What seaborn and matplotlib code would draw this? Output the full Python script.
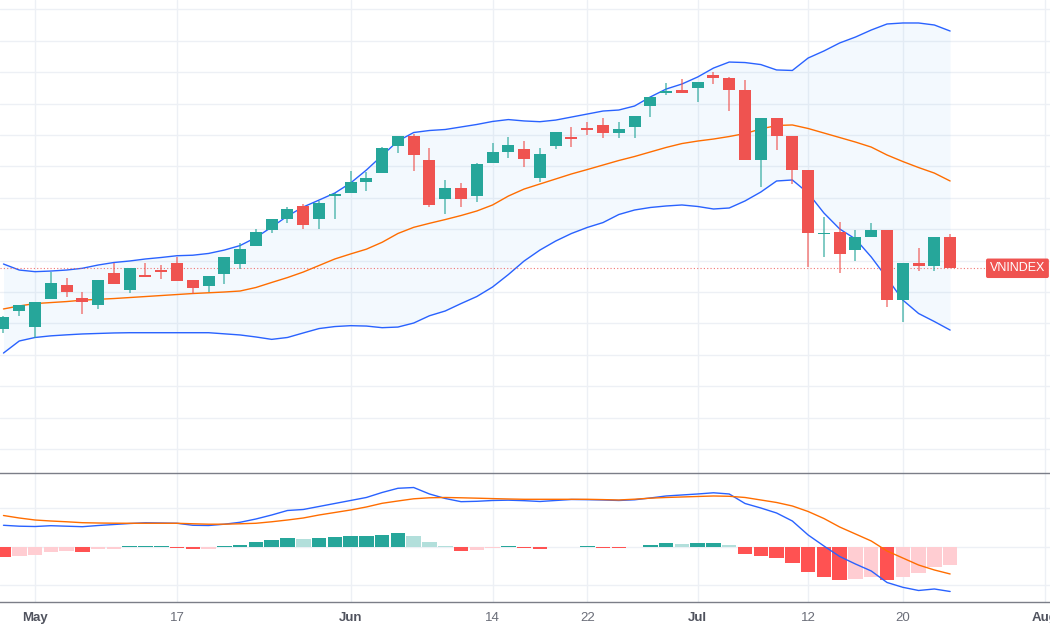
import numpy as np
import pandas as pd
import matplotlib
matplotlib.use("Agg")
import matplotlib.pyplot as plt
import seaborn as sns

# ---------------- data (VNINDEX daily, 28 Apr - 23 Jul 2021) ----------------
holidays = ["2021-04-30", "2021-05-03"]
first_day, last_day = "2021-04-28", "2021-07-23"

open_ = [1245.3, 1259.9, 1246.9, 1269.7, 1280.6, 1270.5, 1264.9, 1290.4, 1276.8, 1288.3,
         1292.1, 1297.9, 1284.3, 1279.8, 1289.6, 1297.7, 1311.9, 1324.4, 1332.9, 1343.5,
         1332.9, 1351.4, 1354.1, 1362.6, 1370.0, 1391.5, 1399.4, 1380.1, 1348.8, 1358.0,
         1351.4, 1377.5, 1386.5, 1388.6, 1366.0, 1391.2, 1398.6, 1405.8, 1408.0, 1401.8,
         1406.6, 1423.1, 1433.2, 1435.8, 1437.2, 1447.8, 1445.1, 1435.8, 1380.1, 1413.3,
         1399.2, 1372.1, 1321.2, 1322.5, 1308.4, 1318.8, 1324.4, 1268.6, 1298.3, 1295.7,
         1319.0]
high = [1255.9, 1264.6, 1267.3, 1291.2, 1286.4, 1275.2, 1284.6, 1297.9, 1294.3, 1298.3,
        1296.3, 1303.1, 1284.3, 1287.7, 1303.1, 1314.4, 1325.2, 1333.4, 1342.4, 1345.1,
        1347.7, 1354.1, 1371.3, 1370.3, 1390.7, 1399.4, 1400.8, 1389.4, 1364.2, 1361.5,
        1377.9, 1393.4, 1398.6, 1395.5, 1389.4, 1402.6, 1406.6, 1410.6, 1413.3, 1410.1,
        1415.1, 1430.5, 1441.2, 1444.4, 1442.0, 1449.9, 1446.4, 1443.8, 1413.3, 1413.3,
        1399.2, 1372.1, 1335.0, 1330.5, 1324.4, 1329.7, 1324.4, 1298.3, 1309.8, 1319.0,
        1320.9]
low = [1242.6, 1256.1, 1238.6, 1269.7, 1271.3, 1257.2, 1261.7, 1281.1, 1274.4, 1286.9,
       1285.1, 1283.5, 1273.8, 1275.2, 1281.1, 1293.7, 1311.9, 1322.2, 1329.7, 1324.9,
       1324.9, 1332.9, 1354.1, 1355.7, 1370.0, 1385.4, 1371.6, 1342.4, 1336.9, 1342.4,
       1346.9, 1377.5, 1381.5, 1374.8, 1362.8, 1388.6, 1390.7, 1400.0, 1397.4, 1397.9,
       1397.9, 1414.6, 1431.8, 1433.2, 1426.5, 1440.4, 1419.1, 1380.1, 1358.8, 1388.1,
       1360.7, 1294.7, 1303.1, 1289.9, 1299.7, 1318.8, 1263.3, 1250.9, 1291.7, 1291.7,
       1293.9]
close = [1254.9, 1264.4, 1267.3, 1281.9, 1275.2, 1267.0, 1284.6, 1281.1, 1294.3, 1286.9,
         1291.3, 1283.5, 1277.8, 1287.7, 1302.9, 1309.1, 1323.0, 1333.4, 1341.3, 1328.6,
         1345.6, 1353.3, 1362.6, 1365.5, 1389.4, 1399.4, 1383.8, 1344.3, 1358.0, 1348.8,
         1376.9, 1386.7, 1392.0, 1381.1, 1384.9, 1402.6, 1397.1, 1404.0, 1401.8, 1404.5,
         1415.1, 1430.5, 1435.0, 1433.2, 1442.0, 1445.1, 1435.8, 1380.1, 1413.3, 1399.2,
         1372.1, 1321.7, 1322.2, 1305.0, 1319.0, 1324.4, 1268.6, 1298.3, 1295.7, 1319.0,
         1293.9]

bb_upper = [1297.3, 1292.5, 1291.2, 1291.7, 1292.5, 1293.9, 1296.5, 1298.5, 1299.7, 1301.3,
            1302.5, 1303.9, 1304.3, 1305.7, 1308.4, 1312.0, 1318.4, 1326.7, 1335.5, 1342.7,
            1348.2, 1353.8, 1361.8, 1372.1, 1383.7, 1395.2, 1402.0, 1403.6, 1404.4, 1406.4,
            1408.4, 1410.8, 1412.3, 1411.2, 1410.6, 1411.9, 1414.3, 1416.7, 1419.1, 1419.9,
            1423.1, 1430.3, 1436.6, 1440.6, 1446.2, 1453.3, 1458.1, 1457.7, 1456.1, 1451.8,
            1451.4, 1461.3, 1466.9, 1473.3, 1478.0, 1483.6, 1488.4, 1489.2, 1489.2, 1487.6,
            1482.8]
bb_basis = [1261.5, 1263.9, 1265.8, 1266.6, 1267.4, 1268.5, 1269.2, 1269.8, 1270.6, 1271.4,
            1272.2, 1273.0, 1273.8, 1274.4, 1275.0, 1275.8, 1278.6, 1282.6, 1286.5, 1290.9,
            1296.1, 1301.3, 1305.3, 1309.1, 1314.6, 1321.6, 1326.5, 1329.7, 1332.7, 1335.9,
            1339.5, 1344.3, 1351.4, 1357.0, 1361.0, 1365.0, 1369.0, 1372.5, 1376.1, 1379.7,
            1382.9, 1386.5, 1390.1, 1393.2, 1395.2, 1396.8, 1398.8, 1401.2, 1404.8, 1407.6,
            1408.0, 1405.2, 1401.6, 1398.0, 1394.4, 1390.4, 1384.1, 1378.9, 1374.1, 1369.7,
            1363.4]
bb_lower = [1226.4, 1236.0, 1238.8, 1240.1, 1240.9, 1241.6, 1242.0, 1242.4, 1242.6, 1242.6,
            1242.6, 1242.6, 1242.6, 1242.6, 1241.7, 1240.8, 1239.2, 1237.3, 1238.8, 1242.4,
            1245.9, 1247.5, 1248.2, 1247.9, 1246.6, 1247.1, 1250.3, 1256.1, 1259.9, 1265.8,
            1271.4, 1279.0, 1288.9, 1299.7, 1308.4, 1315.6, 1321.6, 1326.4, 1330.3, 1336.7,
            1340.3, 1342.3, 1343.5, 1344.3, 1343.1, 1341.1, 1341.9, 1347.5, 1354.6, 1363.4,
            1364.2, 1353.8, 1337.9, 1325.2, 1317.2, 1302.9, 1286.1, 1268.6, 1257.9, 1251.5,
            1244.7]

macd = [5.64, 5.40, 5.32, 5.53, 5.40, 5.27, 5.58, 5.84, 6.10, 6.29,
        6.23, 6.16, 5.64, 5.58, 5.92, 6.42, 7.27, 8.31, 9.48, 9.74,
        10.52, 11.30, 12.08, 12.86, 14.16, 15.25, 15.45, 13.77, 12.60, 11.77,
        11.87, 12.08, 12.16, 12.03, 11.82, 12.08, 12.34, 12.29, 12.21, 12.08,
        12.26, 12.73, 13.25, 13.51, 13.77, 14.08, 13.77, 11.30, 10.13, 8.83,
        6.75, 3.12, 0.26, -2.47, -4.42, -6.23, -9.22, -10.47, -11.30, -10.91,
        -11.56]
signal = [8.18, 7.53, 7.01, 6.75, 6.55, 6.31, 6.23, 6.18, 6.16, 6.16,
          6.16, 6.16, 6.03, 5.92, 5.92, 6.03, 6.16, 6.55, 7.01, 7.53,
          8.31, 8.96, 9.61, 10.39, 11.35, 11.95, 12.52, 12.78, 12.86, 12.78,
          12.68, 12.57, 12.47, 12.39, 12.39, 12.39, 12.39, 12.39, 12.31, 12.21,
          12.42, 12.68, 12.86, 12.99, 13.12, 13.25, 13.17, 12.86, 12.21, 11.56,
          10.65, 9.22, 7.40, 5.19, 3.38, 1.56, -1.04, -2.86, -4.68, -5.97,
          -7.01]
hist = [-2.68, -2.26, -2.00, -1.22, -1.04, -1.22, -0.52, -0.47, 0.21, 0.34,
        0.36, -0.34, -0.52, -0.49, 0.26, 0.52, 1.22, 1.90, 2.34, 2.08,
        2.34, 2.52, 2.78, 2.81, 3.19, 3.71, 2.94, 1.30, 0.26, -1.04,
        -0.78, -0.34, 0.26, -0.34, -0.52, -0.08, -0.05, 0.21, -0.18, -0.34,
        -0.08, 0.52, 0.96, 0.78, 0.96, 0.99, 0.52, -1.82, -2.26, -2.94,
        -4.23, -6.42, -7.71, -8.57, -8.31, -7.87, -8.57, -7.71, -6.83, -5.27,
        -4.68]

tick_dates = ["2021-05-04", "2021-05-17", "2021-06-01", "2021-06-14", "2021-06-22",
              "2021-07-01", "2021-07-12", "2021-07-20", "2021-08-02"]
tick_labels = ["May", "17", "Jun", "14", "22", "Jul", "12", "20", "Aug"]
month_labels = {"May", "Jun", "Jul", "Aug"}
symbol = "VNINDEX"

# ---------------- build frame on a trading-day axis ----------------
days = pd.bdate_range(first_day, last_day)
days = days[~days.isin(pd.to_datetime(holidays))]
df = pd.DataFrame({"date": days, "open": open_, "high": high, "low": low, "close": close,
                   "upper": bb_upper, "basis": bb_basis, "lower": bb_lower,
                   "macd": macd, "signal": signal, "hist": hist})
df["i"] = np.arange(len(df))
tick_pos = [int(np.busday_count(first_day, d, holidays=holidays)) for d in tick_dates]

UP, DOWN = "#26a69a", "#ef5350"
BLUE, ORANGE = "#2962ff", "#ff6d00"
GRID = "#edf0f5"

sns.set_style("white")
plt.rcParams["font.family"] = ["Liberation Sans", "DejaVu Sans"]

fig = plt.figure(figsize=(10.5, 6.3), dpi=100)
ax1 = fig.add_axes([0, 1 - 473 / 630, 1, 473 / 630])
ax2 = fig.add_axes([0, 1 - 602 / 630, 1, 129 / 630])

xlim = (-0.22, 66.33)

# ---------------- price panel ----------------
ax1.fill_between(df["i"], df["lower"], df["upper"], color="#2196f3", alpha=0.05, lw=0, zorder=1)
sns.lineplot(data=df, x="i", y="upper", ax=ax1, color=BLUE, lw=1.0, zorder=2)
sns.lineplot(data=df, x="i", y="lower", ax=ax1, color=BLUE, lw=1.0, zorder=2)
sns.lineplot(data=df, x="i", y="basis", ax=ax1, color=ORANGE, lw=1.0, zorder=2)

up = df["close"] >= df["open"]
cols = np.where(up, UP, DOWN)
ax1.vlines(df["i"], df["low"], df["high"], colors=cols, lw=1.1, alpha=0.75, zorder=3)
body_bottom = np.minimum(df["open"], df["close"])
body_h = np.maximum((df["close"] - df["open"]).abs(), 0.9)
ax1.bar(df["i"], body_h, bottom=body_bottom, width=0.76, color=cols, lw=0, zorder=4)

last = df["close"].iloc[-1]
ax1.axhline(last, color=DOWN, lw=0.8, ls=(0, (1, 2)), alpha=0.8, zorder=2)
ax1.annotate(symbol, xy=(0.969, last), xycoords=("axes fraction", "data"),
             ha="center", va="center", color="white", fontsize=9,
             bbox=dict(boxstyle="round,pad=0.3,rounding_size=0.15", fc=DOWN, ec="none"),
             zorder=6)

ax1.set_xlim(*xlim)
ax1.set_ylim(1130.9, 1507.5)
ax1.set_yticks(np.arange(1150, 1501, 25))
ax1.set_xticks(tick_pos)
ax1.tick_params(length=0, labelbottom=False, labelleft=False)
ax1.grid(True, color=GRID, lw=1)
ax1.set_axisbelow(True)
ax1.set_xlabel("")
ax1.set_ylabel("")
for s in ax1.spines.values():
    s.set_visible(False)

# ---------------- MACD panel ----------------
prev = np.r_[np.inf, df["hist"].values[:-1]]
h = df["hist"].values
hcols = np.where(h >= 0,
                 np.where(prev < h, "#26a69a", "#b2dfdb"),
                 np.where(prev < h, "#ffcdd2", "#ff5252"))
ax2.bar(df["i"], h, width=0.92, color=hcols, lw=0, zorder=2)
sns.lineplot(data=df, x="i", y="macd", ax=ax2, color=BLUE, lw=1.0, zorder=3)
sns.lineplot(data=df, x="i", y="signal", ax=ax2, color=ORANGE, lw=1.0, zorder=3)

ax2.set_xlim(*xlim)
ax2.set_ylim(-14.29, 19.22)
ax2.set_yticks([-10, 0, 10])
ax2.set_xticks(tick_pos)
ax2.set_xticklabels(tick_labels)
ax2.tick_params(axis="y", length=0, labelleft=False)
ax2.tick_params(axis="x", length=5, width=1, color="#8a8d96", pad=2, labelsize=9.5)
for lab in ax2.get_xticklabels():
    if lab.get_text() in month_labels:
        lab.set_fontweight("bold")
        lab.set_color("#50535e")
    else:
        lab.set_color("#6a6d78")
ax2.grid(True, color=GRID, lw=1)
ax2.set_axisbelow(True)
ax2.set_xlabel("")
ax2.set_ylabel("")
for k, s in ax2.spines.items():
    if k in ("left", "right"):
        s.set_visible(False)
    else:
        s.set_color("#7b7e88")
        s.set_linewidth(1)

fig.savefig("out.png", dpi=100)
